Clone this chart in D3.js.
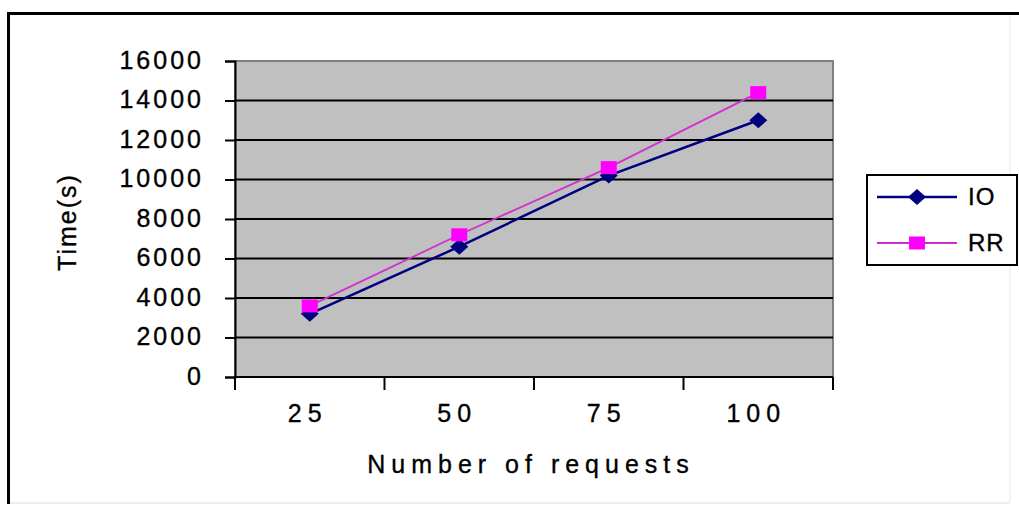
<!DOCTYPE html>
<html>
<head>
<meta charset="utf-8">
<script src="https://cdn.jsdelivr.net/npm/d3@7"></script>
<style>
  body { margin: 0; background: #fff; }
  text { font-family: "Liberation Sans", Arial, sans-serif; fill: #000; stroke: #000; stroke-width: 0.35px; }
</style>
</head>
<body>
<div id="chart"></div>
<script>
// chart data
var categories = ["25", "50", "75", "100"];
var ioValues = [3200, 6600, 10200, 13000];
var rrValues = [3600, 7200, 10600, 14400];
var yTicks = [0, 2000, 4000, 6000, 8000, 10000, 12000, 14000, 16000];
var seriesNames = ["IO", "RR"];

var svgWidth = 1019;
var svgHeight = 512;
var plot = { left: 235, right: 833, top: 61, bottom: 377 };

var svg = d3.select("#chart")
    .append("svg")
    .attr("width", svgWidth)
    .attr("height", svgHeight);

// outer chart frame (dark top/left, faint right/bottom)
svg.append("line").attr("x1", 7).attr("x2", svgWidth).attr("y1", 13.5).attr("y2", 13.5)
    .attr("stroke", "#000").attr("stroke-width", 3);
svg.append("line").attr("x1", 8.5).attr("x2", 8.5).attr("y1", 12).attr("y2", 504)
    .attr("stroke", "#000").attr("stroke-width", 3);
svg.append("line").attr("x1", 10).attr("x2", 1010).attr("y1", 503).attr("y2", 503)
    .attr("stroke", "#eeeeee").attr("stroke-width", 2);
svg.append("line").attr("x1", 1010).attr("x2", 1010).attr("y1", 15).attr("y2", 503)
    .attr("stroke", "#f4f4f4").attr("stroke-width", 2);

var xScale = d3.scaleBand()
    .domain(categories)
    .range([plot.left, plot.right])
    .padding(0);

var yScale = d3.scaleLinear()
    .domain([0, 16000])
    .range([plot.bottom, plot.top]);

// plot background
svg.append("rect")
    .attr("x", plot.left)
    .attr("y", plot.top)
    .attr("width", plot.right - plot.left)
    .attr("height", plot.bottom - plot.top)
    .attr("fill", "#c0c0c0")
    .attr("stroke", "#808080")
    .attr("stroke-width", 2);

// gridlines
svg.append("g")
    .selectAll("line")
    .data(yTicks.filter(function(d) { return d > 0 && d < 16000; }))
    .enter()
    .append("line")
    .attr("x1", plot.left)
    .attr("x2", plot.right)
    .attr("y1", function(d) { return yScale(d); })
    .attr("y2", function(d) { return yScale(d); })
    .attr("stroke", "#000")
    .attr("stroke-width", 2);

// y axis
var yAxis = d3.axisLeft(yScale).tickValues(yTicks).tickSize(10).tickPadding(21)
    .tickFormat(d3.format("d"));
var yG = svg.append("g")
    .attr("transform", `translate(${plot.left}, 0)`)
    .call(yAxis);
yG.select(".domain").attr("stroke", "#000").attr("stroke-width", 2);
yG.selectAll(".tick line").attr("stroke", "#000").attr("stroke-width", 2);
yG.selectAll(".tick text")
    .attr("font-size", "25px")
    .attr("letter-spacing", "3px")
    .attr("font-family", "Liberation Sans, Arial, sans-serif")
    .attr("fill", "#000")
    .attr("dy", "0.28em");

// x axis: labels at category centres, tick marks on category edges
var xAxis = d3.axisBottom(xScale).tickSize(0).tickPadding(0);
var xG = svg.append("g")
    .attr("transform", `translate(0, ${plot.bottom})`)
    .call(xAxis);
xG.select(".domain").remove();
xG.selectAll(".tick text")
    .attr("font-size", "25px")
    .attr("letter-spacing", "6px")
    .attr("font-family", "Liberation Sans, Arial, sans-serif")
    .attr("fill", "#000")
    .attr("y", 45)
    .attr("dy", 0)
    .attr("dx", -2);

svg.append("line")
    .attr("x1", plot.left).attr("x2", plot.right)
    .attr("y1", plot.bottom).attr("y2", plot.bottom)
    .attr("stroke", "#000").attr("stroke-width", 2);

var edges = categories.map(function(c) { return xScale(c); }).concat([plot.right]);
svg.append("g")
    .selectAll("line")
    .data(edges)
    .enter()
    .append("line")
    .attr("x1", function(d) { return d; })
    .attr("x2", function(d) { return d; })
    .attr("y1", plot.bottom)
    .attr("y2", plot.bottom + 13)
    .attr("stroke", "#000")
    .attr("stroke-width", 2);

// axis titles
svg.append("text")
    .attr("x", 531)
    .attr("y", 473)
    .attr("text-anchor", "middle")
    .attr("font-size", "25px")
    .attr("letter-spacing", "6px")
    .text("Number of requests");

svg.append("text")
    .attr("transform", "translate(76, 222) rotate(-90)")
    .attr("text-anchor", "middle")
    .attr("font-size", "25px")
    .attr("letter-spacing", "2px")
    .text("Time(s)");

// series
var cx = function(i) { return xScale(categories[i]) + xScale.bandwidth() / 2; };
var line = d3.line()
    .x(function(d, i) { return cx(i); })
    .y(function(d) { return yScale(d); });

function diamond(g, x, y) {
    g.append("path")
        .attr("d", `M${x},${y - 8} L${x + 9},${y} L${x},${y + 8} L${x - 9},${y} Z`)
        .attr("fill", "#000080");
}
function square(g, x, y) {
    g.append("rect")
        .attr("x", x - 8).attr("y", y - 6.5)
        .attr("width", 16).attr("height", 13)
        .attr("fill", "#ff00ff");
}

svg.append("path")
    .datum(ioValues)
    .attr("d", line)
    .attr("fill", "none")
    .attr("stroke", "#000080")
    .attr("stroke-width", 2.5);

svg.append("path")
    .datum(rrValues)
    .attr("d", line)
    .attr("fill", "none")
    .attr("stroke", "#d030d0")
    .attr("stroke-width", 1.8);

var markers = svg.append("g");
ioValues.forEach(function(v, i) { diamond(markers, cx(i), yScale(v)); });
rrValues.forEach(function(v, i) { square(markers, cx(i), yScale(v)); });

// legend
var legend = svg.append("g");
legend.append("rect")
    .attr("x", 867).attr("y", 175)
    .attr("width", 150).attr("height", 90)
    .attr("fill", "#fff")
    .attr("stroke", "#000")
    .attr("stroke-width", 2);

var legendY = [197, 243];
var legendColors = ["#000080", "#d030d0"];
seriesNames.forEach(function(name, i) {
    legend.append("line")
        .attr("x1", 877).attr("x2", 957)
        .attr("y1", legendY[i]).attr("y2", legendY[i])
        .attr("stroke", legendColors[i])
        .attr("stroke-width", i === 0 ? 2.5 : 1.8);
    if (i === 0) diamond(legend, 917, legendY[i]);
    else square(legend, 917, legendY[i]);
    legend.append("text")
        .attr("x", 968)
        .attr("y", legendY[i] + 8)
        .attr("font-size", "24px")
        .attr("letter-spacing", "1px")
        .text(name);
});
</script>
</body>
</html>
